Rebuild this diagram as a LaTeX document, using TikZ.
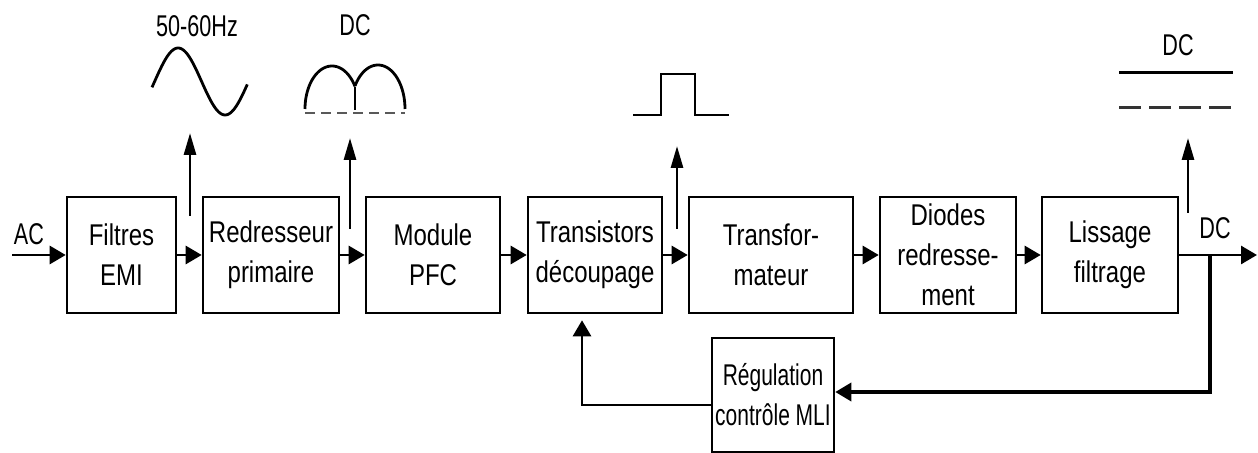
\documentclass[tikz,border=0pt]{standalone}
\usepackage{fontspec}
\setmainfont{Liberation Sans}
\newfontfamily\boxfont[FakeStretch=0.8]{Liberation Sans}
\newfontfamily\regfont[FakeStretch=0.7]{Liberation Sans}
\newfontfamily\lblfont[FakeStretch=0.72]{Liberation Sans}
\usetikzlibrary{arrows.meta}
\begin{document}
\begin{tikzpicture}[x=0.5pt,y=-0.5pt,
  blk/.style={draw, line width=1.3pt, align=center, font=\boxfont\fontsize{15}{20}\selectfont, inner sep=0pt, minimum height=58pt},
  arr/.style={line width=1.4pt, -{Triangle[length=8pt,width=9pt]}},
  varr/.style={line width=1.4pt, -{Triangle[length=11pt,width=6pt]}},
  wave/.style={line width=1.4pt},
  lbl/.style={font=\lblfont\fontsize{15}{18}\selectfont, inner sep=0pt}]
\path[use as bounding box] (0,0) rectangle (1258,453);

% blocks
\node[blk, minimum width=54.5pt] (emi) at (121.5,255) {Filtres\\EMI};
\node[blk, minimum width=68pt] (red) at (271,255) {Redresseur\\primaire};
\node[blk, minimum width=67pt] (pfc) at (433,255) {Module\\PFC};
\node[blk, minimum width=67pt] (tr) at (595,255) {Transistors\\découpage};
\node[blk, minimum width=82pt] (tf) at (771,255) {Transfor-\\mateur};
\node[blk, minimum width=68pt] (dio) at (948,255) {Diodes\\redresse-\\ment};
\node[blk, minimum width=68pt] (lis) at (1110,255) {Lissage\\filtrage};
\node[blk, minimum width=61pt, minimum height=57pt, font=\regfont\fontsize{15}{20}\selectfont] (reg) at (773,395) {Régulation\\contrôle MLI};

% labels
\node[lbl] (l1) at (197,26) {50-60Hz};
\node[lbl] (l2) at (355,25) {DC};
\node[lbl] (l3) at (1178,45) {DC};
\node[lbl] (lac) at (29,234) {AC};
\node[lbl] (ldc) at (1215,228) {DC};

% main chain
\coordinate (acin) at (12,255);
\coordinate (out) at (1257,255);
\draw[arr] (acin) -- (emi);
\draw[arr] (emi) -- (red);
\draw[arr] (red) -- (pfc);
\draw[arr] (pfc) -- (tr);
\draw[arr] (tr) -- (tf);
\draw[arr] (tf) -- (dio);
\draw[arr] (dio) -- (lis);
\draw[arr] (lis) -- (out);

% feedback
\coordinate (fbt) at (1210,255);
\coordinate (fbc) at (1210,392);
\coordinate (fbl) at (582,405);
\draw[arr, line width=1.8pt] (fbt) -- (fbc) -- (reg.east |- fbc);
\draw[arr, shorten >=3pt] (reg.west |- fbl) -- (fbl) -- (fbl |- tr.south);

% taps
\coordinate (t1a) at (190,216); \coordinate (t1b) at (190,133);
\coordinate (t2a) at (350,229); \coordinate (t2b) at (350,138);
\coordinate (t3a) at (677,229); \coordinate (t3b) at (677,146);
\coordinate (t4a) at (1188,213); \coordinate (t4b) at (1188,138);
\draw[varr] (t1a) -- (t1b);
\draw[varr] (t2a) -- (t2b);
\draw[varr] (t3a) -- (t3b);
\draw[varr] (t4a) -- (t4b);

% waveforms
\draw[wave] plot[domain=-10:355, samples=80, smooth] ({152+(\x+10)/360*94}, {81.5-33.5*sin(\x)});
\draw[wave] plot[domain=180:31.6, samples=40, smooth] ({332+27*cos(\x)}, {109-43*sin(\x)});
\draw[wave] plot[domain=148.4:0, samples=40, smooth] ({378+27*cos(\x)}, {109-44*sin(\x)});
\draw[wave] (355,87) -- (355,110);
\draw[line width=1.4pt, gray!70!black, dash pattern=on 5pt off 3pt] (305,113) -- (405,113);
\draw[wave] (633,115) -- (661,115) -- (661,74) -- (695,74) -- (695,115) -- (729,115);
\draw[line width=1.5pt] (1119,73) -- (1233,73);
\draw[line width=1.5pt, gray!40!black, dash pattern=on 11pt off 4pt] (1119,108) -- (1233,108);
\end{tikzpicture}
\end{document}
